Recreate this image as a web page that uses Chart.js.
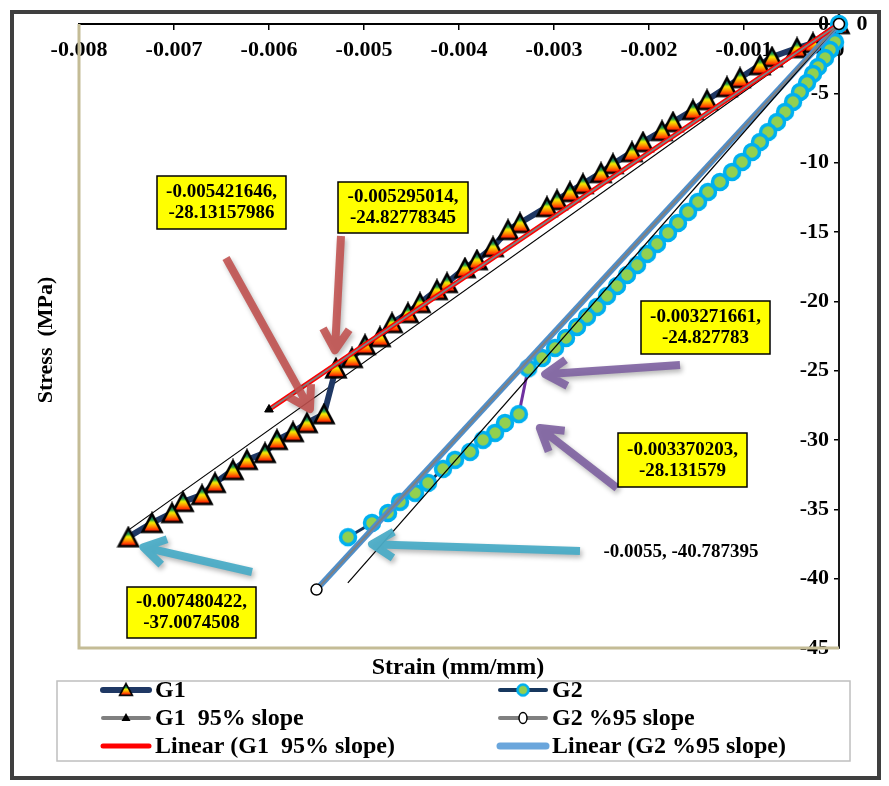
<!DOCTYPE html>
<html>
<head>
<meta charset="utf-8">
<script src="https://cdn.jsdelivr.net/npm/chart.js@4.4.0/dist/chart.umd.min.js"></script>
<style>
  html, body { margin: 0; padding: 0; background: #fff; }
</style>
</head>
<body>
<canvas id="stressChart" width="889" height="786"></canvas>
<script>
// G1 specimen (strain mm/mm, stress MPa)
const g1Strain = [
  0, -0.000274, -0.000442, -0.000705, -0.000832, -0.001042, -0.001179, -0.001389, -0.001537, -0.001747,
  -0.001863, -0.002063, -0.002179, -0.002379, -0.002505, -0.002695, -0.002832, -0.002968, -0.003074, -0.003358,
  -0.003484, -0.003642, -0.003811, -0.003937, -0.004126, -0.004232, -0.004411, -0.004537, -0.004705, -0.004832,
  -0.004989, -0.005126, -0.005295014,
  -0.005421646, -0.0056, -0.005747, -0.005916, -0.006042, -0.006232, -0.006379, -0.006568, -0.006705, -0.006905,
  -0.007021, -0.007232, -0.007480422
];
const g1Stress = [
  0, -1.37, -1.73, -2.38, -2.96, -3.89, -4.54, -5.48, -6.20, -7.07,
  -7.71, -8.51, -9.23, -10.09, -10.74, -11.53, -12.11, -12.69, -13.19, -14.35,
  -14.85, -16.08, -17.02, -17.60, -18.67, -19.18, -20.12, -20.84, -21.56, -22.57,
  -23.14, -24.08, -24.82778345,
  -28.13157986, -28.77, -29.42, -29.99, -30.93, -31.43, -32.16, -33.09, -33.96, -34.46,
  -35.26, -35.98, -37.0074508
];

// G2 specimen
const g2Strain = [
  0, -0.000042, -0.000095, -0.000147, -0.000221, -0.000274, -0.000337, -0.000411, -0.000484, -0.000568,
  -0.000653, -0.000747, -0.000832, -0.000916, -0.001021, -0.001126, -0.001253, -0.001379, -0.001484, -0.001589,
  -0.001695, -0.0018, -0.001916, -0.002021, -0.002126, -0.002232, -0.002337, -0.002442, -0.002547, -0.002653,
  -0.002758, -0.002874, -0.002989, -0.003126, -0.003271661,
  -0.003370203, -0.003516, -0.003621, -0.003747, -0.003884, -0.004042, -0.004168, -0.004326, -0.004463, -0.004621,
  -0.004747, -0.004916, -0.005168
];
const g2Stress = [
  0, -1.30, -1.87, -2.45, -3.10, -3.60, -4.25, -4.90, -5.62, -6.34,
  -7.07, -7.79, -8.51, -9.23, -9.95, -10.67, -11.39, -12.11, -12.83, -13.55,
  -14.35, -15.07, -15.86, -16.58, -17.38, -18.10, -18.89, -19.61, -20.40, -21.12,
  -21.85, -22.64, -23.36, -24.08, -24.827783,
  -28.131579, -28.77, -29.49, -29.99, -30.86, -31.43, -32.08, -33.09, -33.81, -34.46,
  -35.26, -35.98, -37.0074508
];

// 95% slope series
const g1SlopeStrain = [0, -0.006];
const g1SlopeStress = [0, -27.8];
const g2SlopeStrain = [0, -0.0055];
const g2SlopeStress = [0, -40.787395];

// initial slope lines drawn on the plot
const g1TangentStrain = [0, -0.00748];
const g1TangentStress = [0, -36.5];
const g2TangentStrain = [0, -0.00517];
const g2TangentStress = [0, -40.3];

// axis ranges
const strainRange = [-0.008, 0, 0.001];
const stressRange = [-45, 0, 5];

const FONT = '"Liberation Serif", "Times New Roman", serif';

function toPoints(xs, ys) {
  return xs.map((x, i) => ({x: x, y: ys[i]}));
}

// least squares line, drawn over the x range of the series
function linearTrend(xs, ys) {
  const n = xs.length;
  const mx = xs.reduce((a, b) => a + b, 0) / n;
  const my = ys.reduce((a, b) => a + b, 0) / n;
  let sxy = 0, sxx = 0;
  for (let i = 0; i < n; i++) {
    sxy += (xs[i] - mx) * (ys[i] - my);
    sxx += (xs[i] - mx) * (xs[i] - mx);
  }
  const b = sxy / sxx;
  const a = my - b * mx;
  const lo = Math.min(...xs), hi = Math.max(...xs);
  return [{x: hi, y: a + b * hi}, {x: lo, y: a + b * lo}];
}

function makeTriangle() {
  const c = document.createElement('canvas');
  c.width = 24; c.height = 23;
  const g = c.getContext('2d');
  const grad = g.createLinearGradient(0, 3, 0, 21);
  grad.addColorStop(0, '#1f3a93');
  grad.addColorStop(0.3, '#1f9e48');
  grad.addColorStop(0.45, '#f2f200');
  grad.addColorStop(0.65, '#ff9900');
  grad.addColorStop(0.9, '#ff1a00');
  g.beginPath();
  g.moveTo(12, 2.5); g.lineTo(21.5, 20.5); g.lineTo(2.5, 20.5); g.closePath();
  g.fillStyle = grad; g.fill();
  g.lineWidth = 2.6; g.strokeStyle = '#000'; g.stroke();
  return c;
}

function makeCircle() {
  const c = document.createElement('canvas');
  c.width = 22; c.height = 22;
  const g = c.getContext('2d');
  g.beginPath(); g.arc(11, 11, 7.5, 0, Math.PI * 2);
  g.fillStyle = '#92d050'; g.fill();
  g.lineWidth = 3.5; g.strokeStyle = '#00b0f0'; g.stroke();
  return c;
}

const triImg = makeTriangle();
const circImg = makeCircle();

const BROWN = 'rgba(192,80,77,0.88)';
const PURPLE = 'rgba(128,100,162,0.92)';
const TEAL = 'rgba(75,172,198,0.95)';

// callouts: dataset index, point index, box [x, y, w, h], arrow tail, tip offset from point
const callouts = [
  {ds: 0, idx: 33, box: [157, 176, 129, 53], tail: [226, 258], tip: [-14, -5], color: BROWN},
  {ds: 0, idx: 32, box: [338, 182, 130, 51], tail: [341, 236], tip: [-1, -18], color: BROWN},
  {ds: 1, idx: 34, box: [641, 301, 129, 53], tail: [680, 365], tip: [17, 6], color: PURPLE},
  {ds: 1, idx: 35, box: [618, 433, 129, 54], tail: [617, 488], tip: [21, 14], color: PURPLE},
  {ds: 0, idx: 45, box: [127, 587, 129, 51], tail: [252, 572], tip: [15, 10], color: TEAL},
  {ds: 1, idx: 47, box: null, tail: [580, 551], tip: [24, 7], color: TEAL}
];

function drawArrow(ctx, x0, y0, x1, y1, color) {
  const ang = Math.atan2(y1 - y0, x1 - x0);
  const head = 25, spread = 0.55;
  ctx.save();
  ctx.strokeStyle = color;
  ctx.lineWidth = 8;
  ctx.lineCap = 'butt';
  ctx.lineJoin = 'round';
  ctx.shadowColor = 'rgba(0,0,0,0.3)';
  ctx.shadowBlur = 5; ctx.shadowOffsetX = 2; ctx.shadowOffsetY = 3;
  ctx.beginPath();
  ctx.moveTo(x0, y0); ctx.lineTo(x1, y1);
  ctx.moveTo(x1 - head * Math.cos(ang - spread), y1 - head * Math.sin(ang - spread));
  ctx.lineTo(x1, y1);
  ctx.lineTo(x1 - head * Math.cos(ang + spread), y1 - head * Math.sin(ang + spread));
  ctx.stroke();
  ctx.restore();
}

function drawCallouts(chart) {
  const ctx = chart.ctx;
  const sets = [[g1Strain, g1Stress], [g2Strain, g2Stress]];
  callouts.forEach(c => {
    const el = chart.getDatasetMeta(c.ds).data[c.idx];
    drawArrow(ctx, c.tail[0], c.tail[1], el.x + c.tip[0], el.y + c.tip[1], c.color);
    if (!c.box) return;
    const [bx, by, bw, bh] = c.box;
    const xs = sets[c.ds][0], ys = sets[c.ds][1];
    ctx.save();
    ctx.fillStyle = '#ffff00';
    ctx.fillRect(bx, by, bw, bh);
    ctx.strokeStyle = '#000'; ctx.lineWidth = 1.5;
    ctx.strokeRect(bx, by, bw, bh);
    ctx.fillStyle = '#000';
    ctx.font = 'bold 19px ' + FONT;
    ctx.textAlign = 'center'; ctx.textBaseline = 'middle';
    ctx.fillText(xs[c.idx] + ',', bx + bw / 2, by + bh / 2 - 10);
    ctx.fillText(String(ys[c.idx]), bx + bw / 2, by + bh / 2 + 11);
    ctx.restore();
  });
  // plain label for the G2 95% slope end point
  ctx.save();
  ctx.fillStyle = '#000';
  ctx.font = 'bold 19px ' + FONT;
  ctx.textAlign = 'center'; ctx.textBaseline = 'middle';
  ctx.fillText(g2SlopeStrain[1] + ', ' + g2SlopeStress[1], 681, 552);
  // data label at the origin
  const o = chart.getDatasetMeta(1).data[0];
  ctx.font = 'bold 22px ' + FONT;
  ctx.fillText(String(g2Stress[0]), o.x + 23, o.y);
  ctx.restore();
}

function drawTitles(chart) {
  const ctx = chart.ctx, a = chart.chartArea;
  ctx.save();
  ctx.fillStyle = '#000';
  ctx.textAlign = 'center'; ctx.textBaseline = 'middle';
  ctx.font = 'bold 24px ' + FONT;
  ctx.fillText('Strain (mm/mm)', 458, 668);
  ctx.translate(46, (a.top + a.bottom) / 2 + 4);
  ctx.rotate(-Math.PI / 2);
  ctx.font = 'bold 22px ' + FONT;
  ctx.fillText('Stress  (MPa)', 0, 0);
  ctx.restore();
}

const legendSlots = [
  {ds: 0, col: 0, row: 0}, {ds: 1, col: 1, row: 0},
  {ds: 2, col: 0, row: 1}, {ds: 3, col: 1, row: 1},
  {ds: 4, col: 0, row: 2}, {ds: 5, col: 1, row: 2}
];

function drawLegend(chart) {
  const ctx = chart.ctx;
  const colX = [103, 500], rowY = [690, 718, 746];
  ctx.save();
  ctx.strokeStyle = '#bfbfbf'; ctx.lineWidth = 1.5;
  ctx.strokeRect(57, 681, 793, 80);
  legendSlots.forEach(s => {
    const d = chart.data.datasets[s.ds];
    const x = colX[s.col], y = rowY[s.row];
    ctx.save();
    ctx.strokeStyle = d.legendLine || d.borderColor;
    ctx.lineWidth = d.legendWidth || 3;
    ctx.lineCap = 'round';
    ctx.beginPath(); ctx.moveTo(x, y); ctx.lineTo(x + 46, y); ctx.stroke();
    const mx = x + 23;
    if (d.pointStyle === triImg) {
      ctx.drawImage(triImg, mx - 8, y - 8, 16, 15);
    } else if (d.pointStyle === circImg) {
      ctx.drawImage(circImg, mx - 8, y - 8, 16, 16);
    } else if (d.legendMarker === 'tri') {
      ctx.fillStyle = '#000';
      ctx.beginPath(); ctx.moveTo(mx, y - 5); ctx.lineTo(mx + 4.5, y + 3); ctx.lineTo(mx - 4.5, y + 3); ctx.closePath(); ctx.fill();
    } else if (d.legendMarker === 'ring') {
      ctx.fillStyle = '#fff'; ctx.strokeStyle = '#000'; ctx.lineWidth = 1.5;
      ctx.beginPath(); ctx.ellipse(mx, y, 4, 5.5, 0, 0, Math.PI * 2); ctx.fill(); ctx.stroke();
    }
    ctx.restore();
    ctx.fillStyle = '#000';
    ctx.font = 'bold 24px ' + FONT;
    ctx.textAlign = 'left'; ctx.textBaseline = 'middle';
    ctx.fillText(d.label, x + 52, y + 1);
  });
  ctx.restore();
}

const excelFrame = {
  id: 'excelFrame',
  beforeDraw(chart) {
    const ctx = chart.ctx;
    ctx.save();
    ctx.fillStyle = '#fff';
    ctx.fillRect(0, 0, chart.width, chart.height);
    ctx.restore();
  },
  beforeDatasetsDraw(chart) {
    const ctx = chart.ctx, a = chart.chartArea;
    ctx.save();
    ctx.strokeStyle = '#c4bc96'; ctx.lineWidth = 3;
    ctx.beginPath();
    ctx.moveTo(a.left, a.top); ctx.lineTo(a.left, a.bottom); ctx.lineTo(a.right, a.bottom);
    ctx.stroke();
    ctx.restore();
  },
  afterDraw(chart) {
    drawTitles(chart);
    drawCallouts(chart);
    drawLegend(chart);
    const ctx = chart.ctx;
    ctx.save();
    ctx.strokeStyle = '#3f3f3f'; ctx.lineWidth = 4;
    ctx.strokeRect(12, 12, 867, 766);
    ctx.restore();
  }
};

const tickFont = {family: FONT, size: 22, weight: 'bold'};

const chart = new Chart(document.getElementById('stressChart'), {
  type: 'scatter',
  data: {
    datasets: [
      {
        label: 'G1', data: toPoints(g1Strain, g1Stress), showLine: true,
        borderColor: '#1f3864', borderWidth: 6, pointStyle: triImg, legendWidth: 6,
        order: 7, clip: false
      },
      {
        label: 'G2', data: toPoints(g2Strain, g2Stress), showLine: true,
        borderColor: '#17375e', borderWidth: 3, pointStyle: circImg, legendWidth: 4,
        segment: {borderColor: s => Math.abs(s.p1.parsed.y - s.p0.parsed.y) > 2 ? '#7030a0' : undefined},
        order: 6, clip: false
      },
      {
        label: 'G1  95% slope', data: toPoints(g1SlopeStrain, g1SlopeStress), showLine: true,
        borderColor: '#808080', borderWidth: 2, pointStyle: 'triangle', pointRadius: 5,
        pointBackgroundColor: '#000', pointBorderColor: '#000', pointBorderWidth: 1,
        legendMarker: 'tri', legendWidth: 4, order: 2, clip: false
      },
      {
        label: 'G2 %95 slope', data: toPoints(g2SlopeStrain, g2SlopeStress), showLine: true,
        borderColor: '#808080', borderWidth: 2, pointStyle: 'circle', pointRadius: 5.5,
        pointBackgroundColor: '#fff', pointBorderColor: '#000', pointBorderWidth: 1.5,
        legendMarker: 'ring', legendWidth: 4, order: 1, clip: false
      },
      {
        label: 'Linear (G1  95% slope)', data: linearTrend(g1SlopeStrain, g1SlopeStress), showLine: true,
        borderColor: '#ff0000', borderWidth: 5, pointRadius: 0, legendWidth: 5, order: 4, clip: false
      },
      {
        label: 'Linear (G2 %95 slope)', data: linearTrend(g2SlopeStrain, g2SlopeStress), showLine: true,
        borderColor: '#4f8fcb', borderWidth: 6, pointRadius: 0, legendLine: '#6aa6dc', legendWidth: 7,
        order: 5, clip: false
      },
      {
        label: 'G1 initial', data: toPoints(g1TangentStrain, g1TangentStress), showLine: true,
        borderColor: '#000', borderWidth: 1.2, pointRadius: 0, order: 8, clip: false
      },
      {
        label: 'G2 initial', data: toPoints(g2TangentStrain, g2TangentStress), showLine: true,
        borderColor: '#000', borderWidth: 1.2, pointRadius: 0, order: 3, clip: false
      }
    ]
  },
  options: {
    responsive: false,
    animation: false,
    devicePixelRatio: 1,
    events: [],
    layout: {padding: {left: 79, top: 24, right: 50, bottom: 138}},
    plugins: {legend: {display: false}, tooltip: {enabled: false}},
    scales: {
      x: {
        type: 'linear', min: strainRange[0], max: strainRange[1], position: {y: 0},
        ticks: {
          stepSize: strainRange[2], padding: 8, color: '#000', font: tickFont,
          autoSkip: false, maxRotation: 0,
          callback: v => Math.abs(v) < 1e-12 ? '0' : v.toFixed(3)
        },
        grid: {display: true, drawOnChartArea: false, drawTicks: true, tickLength: 5, color: '#000', lineWidth: 1.5},
        border: {display: true, color: '#000', width: 2}
      },
      y: {
        type: 'linear', min: stressRange[0], max: stressRange[1], position: 'right',
        ticks: {stepSize: stressRange[2], mirror: true, padding: -10, color: '#000', font: tickFont},
        grid: {display: true, drawOnChartArea: false, drawTicks: true, tickLength: -5, color: '#000', lineWidth: 1.5},
        border: {display: true, color: '#1a1a1a', width: 2}
      }
    }
  },
  plugins: [excelFrame]
});
</script>
</body>
</html>
